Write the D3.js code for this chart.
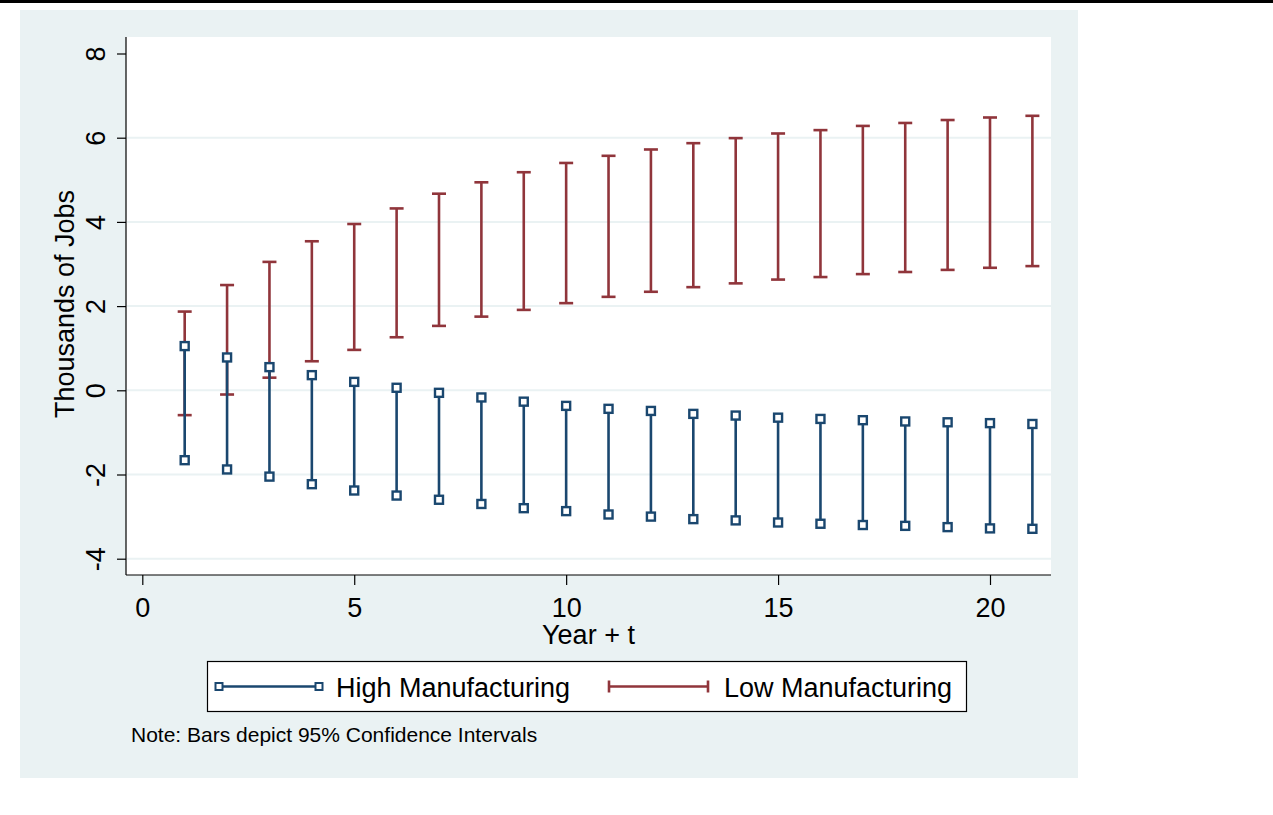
<!DOCTYPE html>
<html>
<head>
<meta charset="utf-8">
<script src="https://cdn.jsdelivr.net/npm/d3@7"></script>
<style>
  html, body { margin: 0; padding: 0; background: #ffffff; }
  svg { display: block; font-family: "Liberation Sans", Arial, sans-serif; }
</style>
</head>
<body>
<svg id="chart" width="1273" height="815"></svg>
<script>
// ---- Data ----
const years = [1,2,3,4,5,6,7,8,9,10,11,12,13,14,15,16,17,18,19,20,21];
const highUpper = [1.05,0.78,0.55,0.36,0.20,0.06,-0.06,-0.17,-0.27,-0.37,-0.44,-0.49,-0.56,-0.60,-0.65,-0.68,-0.71,-0.74,-0.76,-0.78,-0.80];
const highLower = [-1.66,-1.88,-2.05,-2.23,-2.38,-2.50,-2.60,-2.70,-2.80,-2.87,-2.95,-3.00,-3.06,-3.09,-3.14,-3.17,-3.20,-3.22,-3.25,-3.28,-3.29];
const lowUpper = [1.87,2.50,3.05,3.54,3.95,4.32,4.67,4.94,5.18,5.40,5.57,5.72,5.87,5.99,6.10,6.18,6.28,6.35,6.42,6.48,6.52];
const lowLower = [-0.59,-0.10,0.30,0.69,0.96,1.26,1.53,1.75,1.91,2.07,2.22,2.34,2.45,2.54,2.63,2.69,2.76,2.81,2.86,2.91,2.95];
const xTicks = [0,5,10,15,20];
const yTicks = [-4,-2,0,2,4,6,8];
const seriesNames = ["High Manufacturing","Low Manufacturing"];
const xTitle = "Year + t";
const yTitle = "Thousands of Jobs";
const note = "Note: Bars depict 95% Confidence Intervals";

// ---- Styles ----
const BG = "#eaf2f3";
const BLUE = "#1a476f";
const RED = "#90353b";

const svg = d3.select("#chart");

// top black rule
svg.append("rect").attr("x",0).attr("y",0).attr("width",1273).attr("height",3).attr("fill","#000");

// outer background
svg.append("rect").attr("x",20).attr("y",10).attr("width",1058).attr("height",768).attr("fill",BG);

// plot region
const pLeft = 126, pRight = 1051, pTop = 37, pBottom = 575;
svg.append("rect").attr("x",pLeft).attr("y",pTop).attr("width",pRight-pLeft).attr("height",pBottom-pTop).attr("fill","#fff");

const x = d3.scaleLinear().domain([0,20]).range([142.3,990]);
const y = d3.scaleLinear().domain([-4,8]).range([558.7,53.5]);

// gridlines
svg.append("g").selectAll("line").data(yTicks.filter(d => d < 8)).join("line")
  .attr("x1",pLeft+1).attr("x2",pRight).attr("y1",d=>y(d)).attr("y2",d=>y(d))
  .attr("stroke",BG).attr("stroke-width",2);

const fmt = d => String(d);

// axes
const yAxis = d3.axisLeft(y).tickValues(yTicks).tickSize(9).tickFormat(fmt);
const gy = svg.append("g").attr("transform",`translate(${pLeft},0)`).call(yAxis);
gy.select(".domain").attr("d",`M0,${pTop}V${pBottom}`).attr("stroke","#000").attr("stroke-width",1.2);
gy.selectAll(".tick line").attr("stroke","#000").attr("stroke-width",1.2);
gy.selectAll(".tick text")
  .attr("font-size",27).attr("fill","#000")
  .attr("x",null).attr("dy",null)
  .attr("text-anchor","middle")
  .attr("transform","translate(-21,0) rotate(-90)")
  .attr("y",0);

const xAxis = d3.axisBottom(x).tickValues(xTicks).tickSize(10).tickFormat(fmt);
const gx = svg.append("g").attr("transform",`translate(0,${pBottom})`).call(xAxis);
gx.select(".domain").attr("d",`M${pLeft},0H${pRight}`).attr("stroke","#000").attr("stroke-width",1.2);
gx.selectAll(".tick line").attr("stroke","#000").attr("stroke-width",1.2);
gx.selectAll(".tick text").attr("font-size",27).attr("fill","#000").attr("y",42).attr("dy",null);

// axis titles
svg.append("text").attr("x",(pLeft+pRight)/2).attr("y",644).attr("text-anchor","middle")
  .attr("font-size",27).attr("fill","#000").text(xTitle);
svg.append("text").attr("transform",`translate(74,304) rotate(-90)`).attr("text-anchor","middle")
  .attr("font-size",27).attr("fill","#000").text(yTitle);

const hi = years.map((t,i)=>({t, lo: highLower[i], hi: highUpper[i]}));
const lo = years.map((t,i)=>({t, lo: lowLower[i], hi: lowUpper[i]}));

// Low manufacturing: range with caps
const gLow = svg.append("g");
gLow.selectAll("line.v").data(lo).join("line").attr("class","v")
  .attr("x1",d=>x(d.t)).attr("x2",d=>x(d.t)).attr("y1",d=>y(d.lo)).attr("y2",d=>y(d.hi))
  .attr("stroke",RED).attr("stroke-width",2.6);
gLow.selectAll("line.cu").data(lo).join("line").attr("class","cu")
  .attr("x1",d=>x(d.t)-7).attr("x2",d=>x(d.t)+7).attr("y1",d=>y(d.hi)).attr("y2",d=>y(d.hi))
  .attr("stroke",RED).attr("stroke-width",2.6);
gLow.selectAll("line.cl").data(lo).join("line").attr("class","cl")
  .attr("x1",d=>x(d.t)-7).attr("x2",d=>x(d.t)+7).attr("y1",d=>y(d.lo)).attr("y2",d=>y(d.lo))
  .attr("stroke",RED).attr("stroke-width",2.6);

// High manufacturing: range with square markers
const gHigh = svg.append("g");
gHigh.selectAll("line.v").data(hi).join("line").attr("class","v")
  .attr("x1",d=>x(d.t)).attr("x2",d=>x(d.t)).attr("y1",d=>y(d.lo)).attr("y2",d=>y(d.hi))
  .attr("stroke",BLUE).attr("stroke-width",2.6);
const sq = 8;
function squares(g, data, key){
  g.selectAll("rect."+key).data(data).join("rect").attr("class",key)
    .attr("x",d=>x(d.t)-sq/2).attr("y",d=>y(d[key])-sq/2).attr("width",sq).attr("height",sq)
    .attr("fill","#fff").attr("stroke",BLUE).attr("stroke-width",2.4);
}
squares(gHigh, hi, "hi");
squares(gHigh, hi, "lo");

// Legend
const lg = svg.append("g");
lg.append("rect").attr("x",207.5).attr("y",661.5).attr("width",759).attr("height",50)
  .attr("fill","#fff").attr("stroke","#000").attr("stroke-width",1.2);
const ly = 686.5;
lg.append("line").attr("x1",219).attr("x2",319).attr("y1",ly).attr("y2",ly).attr("stroke",BLUE).attr("stroke-width",2.6);
[219,319].forEach(px=>{
  lg.append("rect").attr("x",px-3.5).attr("y",ly-3.5).attr("width",7).attr("height",7)
    .attr("fill","#fff").attr("stroke",BLUE).attr("stroke-width",2);
});
lg.append("text").attr("x",336).attr("y",ly+10).attr("font-size",27).attr("fill","#000").text(seriesNames[0]);
lg.append("line").attr("x1",609).attr("x2",708).attr("y1",ly).attr("y2",ly).attr("stroke",RED).attr("stroke-width",2.6);
[609,708].forEach(px=>{
  lg.append("line").attr("x1",px).attr("x2",px).attr("y1",ly-6).attr("y2",ly+6).attr("stroke",RED).attr("stroke-width",2.6);
});
lg.append("text").attr("x",724).attr("y",ly+10).attr("font-size",27).attr("fill","#000").text(seriesNames[1]);

// Note
svg.append("text").attr("x",131).attr("y",742).attr("font-size",21).attr("fill","#000").text(note);
</script>
</body>
</html>
